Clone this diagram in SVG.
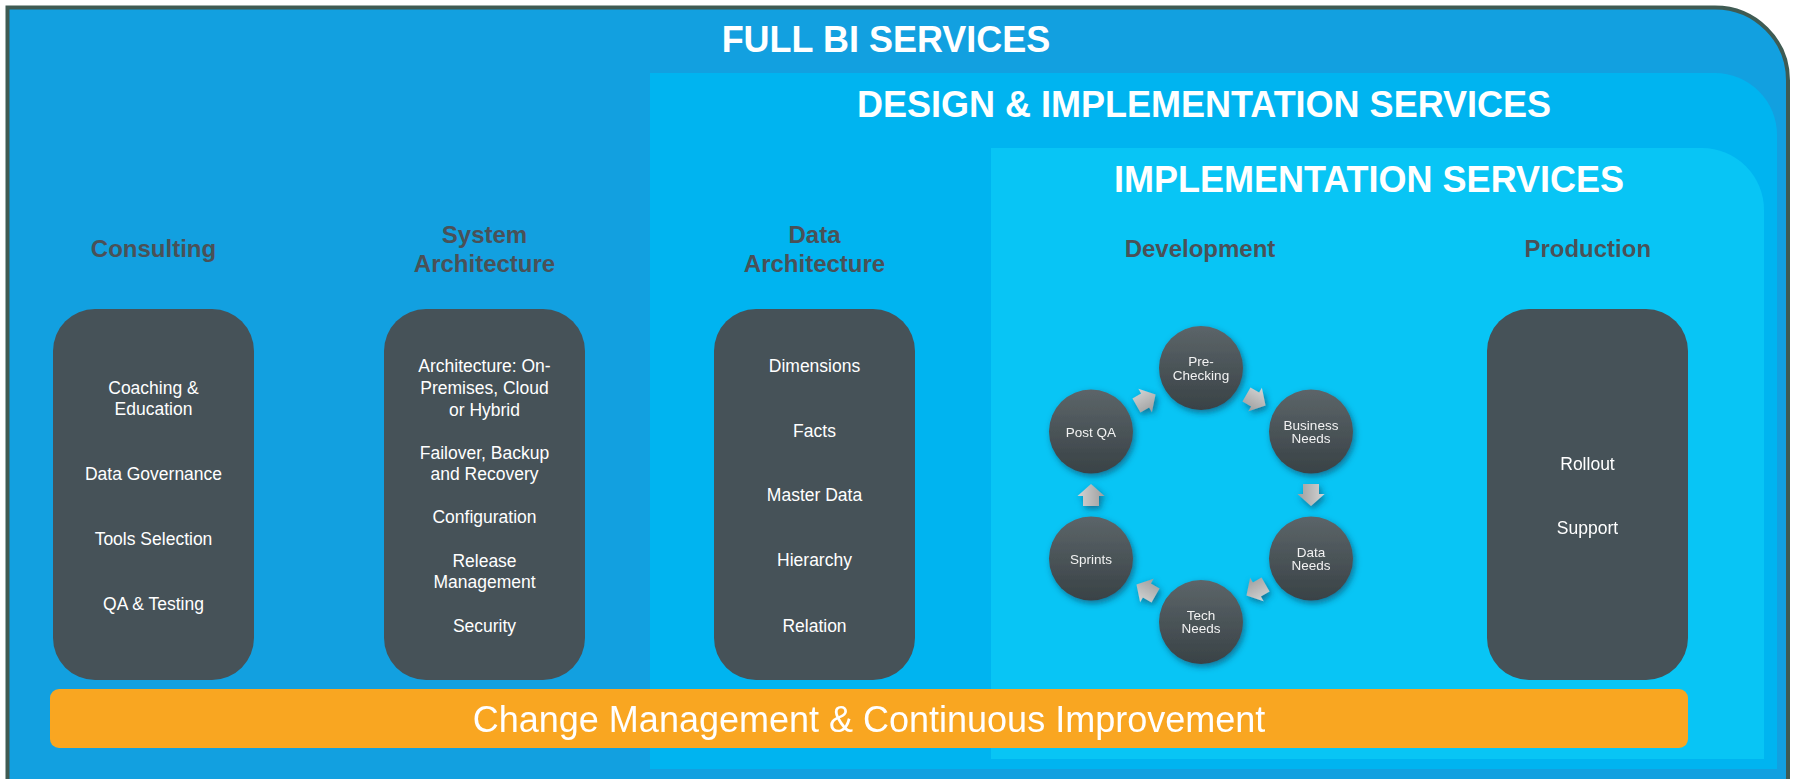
<svg xmlns="http://www.w3.org/2000/svg" xmlns:xlink="http://www.w3.org/1999/xlink" width="1797" height="779" viewBox="0 0 1797 779">
  <style>
    text { font-family: "Liberation Sans", Arial, sans-serif; }
    .title { font-size: 36px; font-weight: bold; fill: #ffffff; text-anchor: middle; }
    .head { font-size: 24px; font-weight: bold; fill: #4a5157; text-anchor: middle; }
    .item { font-size: 17.5px; fill: #ffffff; text-anchor: middle; }
    .step { font-size: 13.5px; fill: #f2f2f2; text-anchor: middle; }
    .box { fill: #465258; }
    .band { font-size: 36px; fill: #ffffff; text-anchor: middle; }
  </style>
  <defs>
    <linearGradient id="ballFill" x1="0" y1="0" x2="0" y2="1">
      <stop offset="0" stop-color="#5c6569"/>
      <stop offset="1" stop-color="#394246"/>
    </linearGradient>
    <linearGradient id="arrowFill" x1="0" y1="0" x2="0" y2="1">
      <stop offset="0" stop-color="#d4d4d4"/>
      <stop offset="1" stop-color="#9e9e9e"/>
    </linearGradient>
    <filter id="shadow" x="-30%" y="-30%" width="160%" height="160%">
      <feDropShadow dx="2" dy="3" stdDeviation="3" flood-color="#0b3347" flood-opacity="0.55"/>
    </filter>
    <path id="arrow" d="M-11,-8 H-1 V-13.5 L11,0 L-1,13.5 V8 H-11 Z" fill="url(#arrowFill)"/>
  </defs>

  <!-- page background -->
  <rect x="0" y="0" width="1797" height="779" fill="#ffffff"/>

  <!-- nested service areas -->
  <g id="full-bi">
    <path d="M7.5,795 V7.5 H1715 A73,73 0 0 1 1788,80.5 V795" fill="#12a0e0" stroke="#3f5b53" stroke-width="4"/>
    <text class="title" x="886" y="52">FULL BI SERVICES</text>
  </g>
  <g id="design-impl">
    <path d="M650,73 H1715 A62,62 0 0 1 1777,135 V769 H650 Z" fill="#00b4f0"/>
    <text class="title" x="1204" y="117">DESIGN &amp; IMPLEMENTATION SERVICES</text>
  </g>
  <g id="impl">
    <path d="M991,148 H1702 A62,62 0 0 1 1764,210 V759 H991 Z" fill="#08c5f5"/>
    <text class="title" x="1369" y="192">IMPLEMENTATION SERVICES</text>
  </g>

  <!-- Consulting -->
  <g id="consulting">
    <text class="head" x="153.5" y="257">Consulting</text>
    <rect class="box" x="53" y="309" width="201" height="371" rx="42"/>
    <text class="item" x="153.5" y="394">Coaching &amp;</text>
    <text class="item" x="153.5" y="415">Education</text>
    <text class="item" x="153.5" y="480">Data Governance</text>
    <text class="item" x="153.5" y="545">Tools Selection</text>
    <text class="item" x="153.5" y="610">QA &amp; Testing</text>
  </g>

  <!-- System Architecture -->
  <g id="system-architecture">
    <text class="head" x="484.5" y="243">System</text>
    <text class="head" x="484.5" y="272">Architecture</text>
    <rect class="box" x="384" y="309" width="201" height="371" rx="42"/>
    <text class="item" x="484.5" y="372">Architecture: On-</text>
    <text class="item" x="484.5" y="394">Premises, Cloud</text>
    <text class="item" x="484.5" y="416">or Hybrid</text>
    <text class="item" x="484.5" y="459">Failover, Backup</text>
    <text class="item" x="484.5" y="480">and Recovery</text>
    <text class="item" x="484.5" y="523">Configuration</text>
    <text class="item" x="484.5" y="567">Release</text>
    <text class="item" x="484.5" y="588">Management</text>
    <text class="item" x="484.5" y="632">Security</text>
  </g>

  <!-- Data Architecture -->
  <g id="data-architecture">
    <text class="head" x="814.5" y="243">Data</text>
    <text class="head" x="814.5" y="272">Architecture</text>
    <rect class="box" x="714" y="309" width="201" height="371" rx="42"/>
    <text class="item" x="814.5" y="372">Dimensions</text>
    <text class="item" x="814.5" y="437">Facts</text>
    <text class="item" x="814.5" y="501">Master Data</text>
    <text class="item" x="814.5" y="566">Hierarchy</text>
    <text class="item" x="814.5" y="632">Relation</text>
  </g>

  <!-- Development cycle -->
  <g id="development">
    <text class="head" x="1200" y="257">Development</text>
  </g>
  <g id="pre-checking" filter="url(#shadow)">
    <circle cx="1201" cy="368" r="42" fill="url(#ballFill)"/>
    <text class="step" x="1201" y="366">Pre-</text>
    <text class="step" x="1201" y="379.5">Checking</text>
  </g>
  <g id="business-needs" filter="url(#shadow)">
    <circle cx="1311" cy="431.5" r="42" fill="url(#ballFill)"/>
    <text class="step" x="1311" y="429.5">Business</text>
    <text class="step" x="1311" y="443">Needs</text>
  </g>
  <g id="data-needs" filter="url(#shadow)">
    <circle cx="1311" cy="558.5" r="42" fill="url(#ballFill)"/>
    <text class="step" x="1311" y="556.5">Data</text>
    <text class="step" x="1311" y="570">Needs</text>
  </g>
  <g id="tech-needs" filter="url(#shadow)">
    <circle cx="1201" cy="622" r="42" fill="url(#ballFill)"/>
    <text class="step" x="1201" y="619.5">Tech</text>
    <text class="step" x="1201" y="633">Needs</text>
  </g>
  <g id="sprints" filter="url(#shadow)">
    <circle cx="1091" cy="558.5" r="42" fill="url(#ballFill)"/>
    <text class="step" x="1091" y="563.5">Sprints</text>
  </g>
  <g id="post-qa" filter="url(#shadow)">
    <circle cx="1091" cy="431.5" r="42" fill="url(#ballFill)"/>
    <text class="step" x="1091" y="436.5">Post QA</text>
  </g>

  <!-- cycle arrows -->
  <g id="connectors" filter="url(#shadow)">
    <use xlink:href="#arrow" href="#arrow" transform="translate(1146,400) rotate(-30)"/>
    <use xlink:href="#arrow" href="#arrow" transform="translate(1256,400) rotate(30)"/>
    <use xlink:href="#arrow" href="#arrow" transform="translate(1311,495) rotate(90)"/>
    <use xlink:href="#arrow" href="#arrow" transform="translate(1256,590) rotate(150)"/>
    <use xlink:href="#arrow" href="#arrow" transform="translate(1146,590) rotate(210)"/>
    <use xlink:href="#arrow" href="#arrow" transform="translate(1091,495) rotate(-90)"/>
  </g>

  <!-- Production -->
  <g id="production">
    <text class="head" x="1587.5" y="257">Production</text>
    <rect class="box" x="1487" y="309" width="201" height="371" rx="42"/>
    <text class="item" x="1587.5" y="470">Rollout</text>
    <text class="item" x="1587.5" y="534">Support</text>
  </g>

  <!-- bottom band -->
  <g id="change-management">
    <rect x="50" y="689" width="1638" height="59" rx="9" fill="#f9a621"/>
    <text class="band" x="869" y="732">Change Management &amp; Continuous Improvement</text>
  </g>
</svg>
